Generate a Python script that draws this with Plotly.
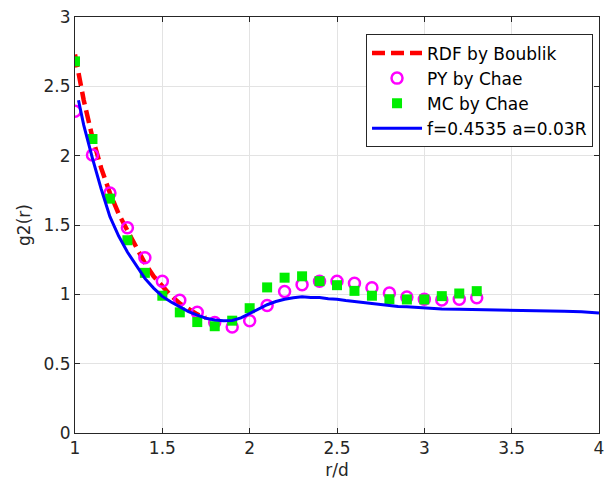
import plotly.graph_objects as go

# RDF by Boublik (red dashed)
rdf_x = [1.0, 1.05, 1.1, 1.15, 1.2, 1.25, 1.3, 1.35, 1.4, 1.45, 1.5, 1.55, 1.6, 1.65, 1.7, 1.75]
rdf_y = [2.73, 2.40, 2.13, 1.91, 1.73, 1.58, 1.46, 1.335, 1.225, 1.13, 1.054, 0.99, 0.934, 0.89, 0.855, 0.83]

# PY by Chae (magenta open circles)
py_x = [1.0, 1.1, 1.2, 1.3, 1.4, 1.5, 1.6, 1.7, 1.8, 1.9, 2.0, 2.1, 2.2, 2.3, 2.4, 2.5,
        2.6, 2.7, 2.8, 2.9, 3.0, 3.1, 3.2, 3.3]
py_y = [2.32, 2.005, 1.73, 1.48, 1.264, 1.095, 0.958, 0.87, 0.797, 0.765, 0.81, 0.92,
        1.02, 1.07, 1.095, 1.095, 1.08, 1.047, 1.01, 0.98, 0.965, 0.96, 0.965, 0.975]

# MC by Chae (green squares)
mc_x = [1.0, 1.1, 1.2, 1.3, 1.4, 1.5, 1.6, 1.7, 1.8, 1.9, 2.0, 2.1, 2.2, 2.3, 2.4, 2.5,
        2.6, 2.7, 2.8, 2.9, 3.0, 3.1, 3.2, 3.3]
mc_y = [2.68, 2.12, 1.69, 1.39, 1.155, 0.99, 0.87, 0.80, 0.77, 0.81, 0.90, 1.05,
        1.12, 1.13, 1.095, 1.066, 1.025, 0.99, 0.965, 0.963, 0.963, 0.987, 1.006, 1.023]

# f=0.4535 a=0.03R (blue line)
f_x = [1.02, 1.05, 1.1, 1.15, 1.2, 1.25, 1.3, 1.35, 1.4, 1.45, 1.5, 1.55, 1.6, 1.65, 1.7,
       1.75, 1.8, 1.85, 1.9, 1.95, 2.0, 2.05, 2.1, 2.15, 2.2, 2.25, 2.3, 2.35, 2.4, 2.45,
       2.5, 2.55, 2.6, 2.65, 2.7, 2.75, 2.8, 2.85, 2.9, 2.95, 3.0, 3.05, 3.1, 3.2, 3.3,
       3.4, 3.5, 3.6, 3.7, 3.8, 3.9, 4.0]
f_y = [2.40, 2.22, 1.98, 1.76, 1.56, 1.42, 1.305, 1.21, 1.115, 1.045, 0.985, 0.945, 0.91,
       0.876, 0.85, 0.828, 0.815, 0.81, 0.812, 0.83, 0.862, 0.895, 0.925, 0.948, 0.965,
       0.976, 0.982, 0.978, 0.977, 0.968, 0.965, 0.955, 0.948, 0.94, 0.932, 0.922, 0.918,
       0.912, 0.91, 0.906, 0.905, 0.9, 0.895, 0.892, 0.89, 0.89, 0.886, 0.884, 0.88,
       0.878, 0.874, 0.866]

x_ticks = [1, 1.5, 2, 2.5, 3, 3.5, 4]
x_tick_labels = ["1", "1.5", "2", "2.5", "3", "3.5", "4"]
y_ticks = [0, 0.5, 1, 1.5, 2, 2.5, 3]
y_tick_labels = ["0", "0.5", "1", "1.5", "2", "2.5", "3"]

FONT = "DejaVu Sans, Liberation Sans, Arial, sans-serif"
AX = "#262626"

fig = go.Figure()
fig.add_trace(go.Scatter(x=rdf_x, y=rdf_y, mode="lines", name="RDF by Boublik",
                         line=dict(color="#ff0000", width=4.5, dash="13px,6px")))
fig.add_trace(go.Scatter(x=py_x, y=py_y, mode="markers", name="PY by Chae",
                         marker=dict(symbol="circle-open", size=11, color="#ff00ff",
                                     line=dict(width=2.5, color="#ff00ff"))))
fig.add_trace(go.Scatter(x=mc_x, y=mc_y, mode="markers", name="MC by Chae",
                         marker=dict(symbol="square", size=10, color="#00ee00",
                                     line=dict(width=0))))
fig.add_trace(go.Scatter(x=f_x, y=f_y, mode="lines", name="f=0.4535 a=0.03R",
                         line=dict(color="#0000ff", width=3)))

axis_common = dict(
    showline=True, linecolor=AX, linewidth=1, mirror="allticks",
    ticks="inside", ticklen=5, tickcolor=AX, tickwidth=1,
    showgrid=True, gridcolor="#e3e3e3", gridwidth=1, zeroline=False,
    tickfont=dict(family=FONT, size=17, color=AX),
    automargin=False, ticklabeloverflow="allow",
)

fig.update_xaxes(range=[1, 4], tickvals=x_ticks, ticktext=x_tick_labels,
                 title=dict(text="r/d", font=dict(family=FONT, size=17, color=AX), standoff=6),
                 **axis_common)
fig.update_yaxes(range=[0, 3], tickvals=y_ticks, ticktext=y_tick_labels,
                 title=dict(text="g2(r)", font=dict(family=FONT, size=17, color=AX), standoff=8),
                 **axis_common)

fig.update_layout(
    width=606, height=493,
    margin=dict(l=75, r=7, t=17, b=60),
    paper_bgcolor="white", plot_bgcolor="white",
    font=dict(family=FONT, size=17, color=AX),
    showlegend=True,
    legend=dict(x=0.9886, y=0.958, xanchor="right", yanchor="top",
                bgcolor="white", bordercolor=AX, borderwidth=1,
                font=dict(family=FONT, size=17, color="#000000"),
                itemwidth=50, tracegroupgap=0),
)

fig.write_html("out.html", config={"displayModeBar": False},
               post_script="document.body.style.margin='0px';")
